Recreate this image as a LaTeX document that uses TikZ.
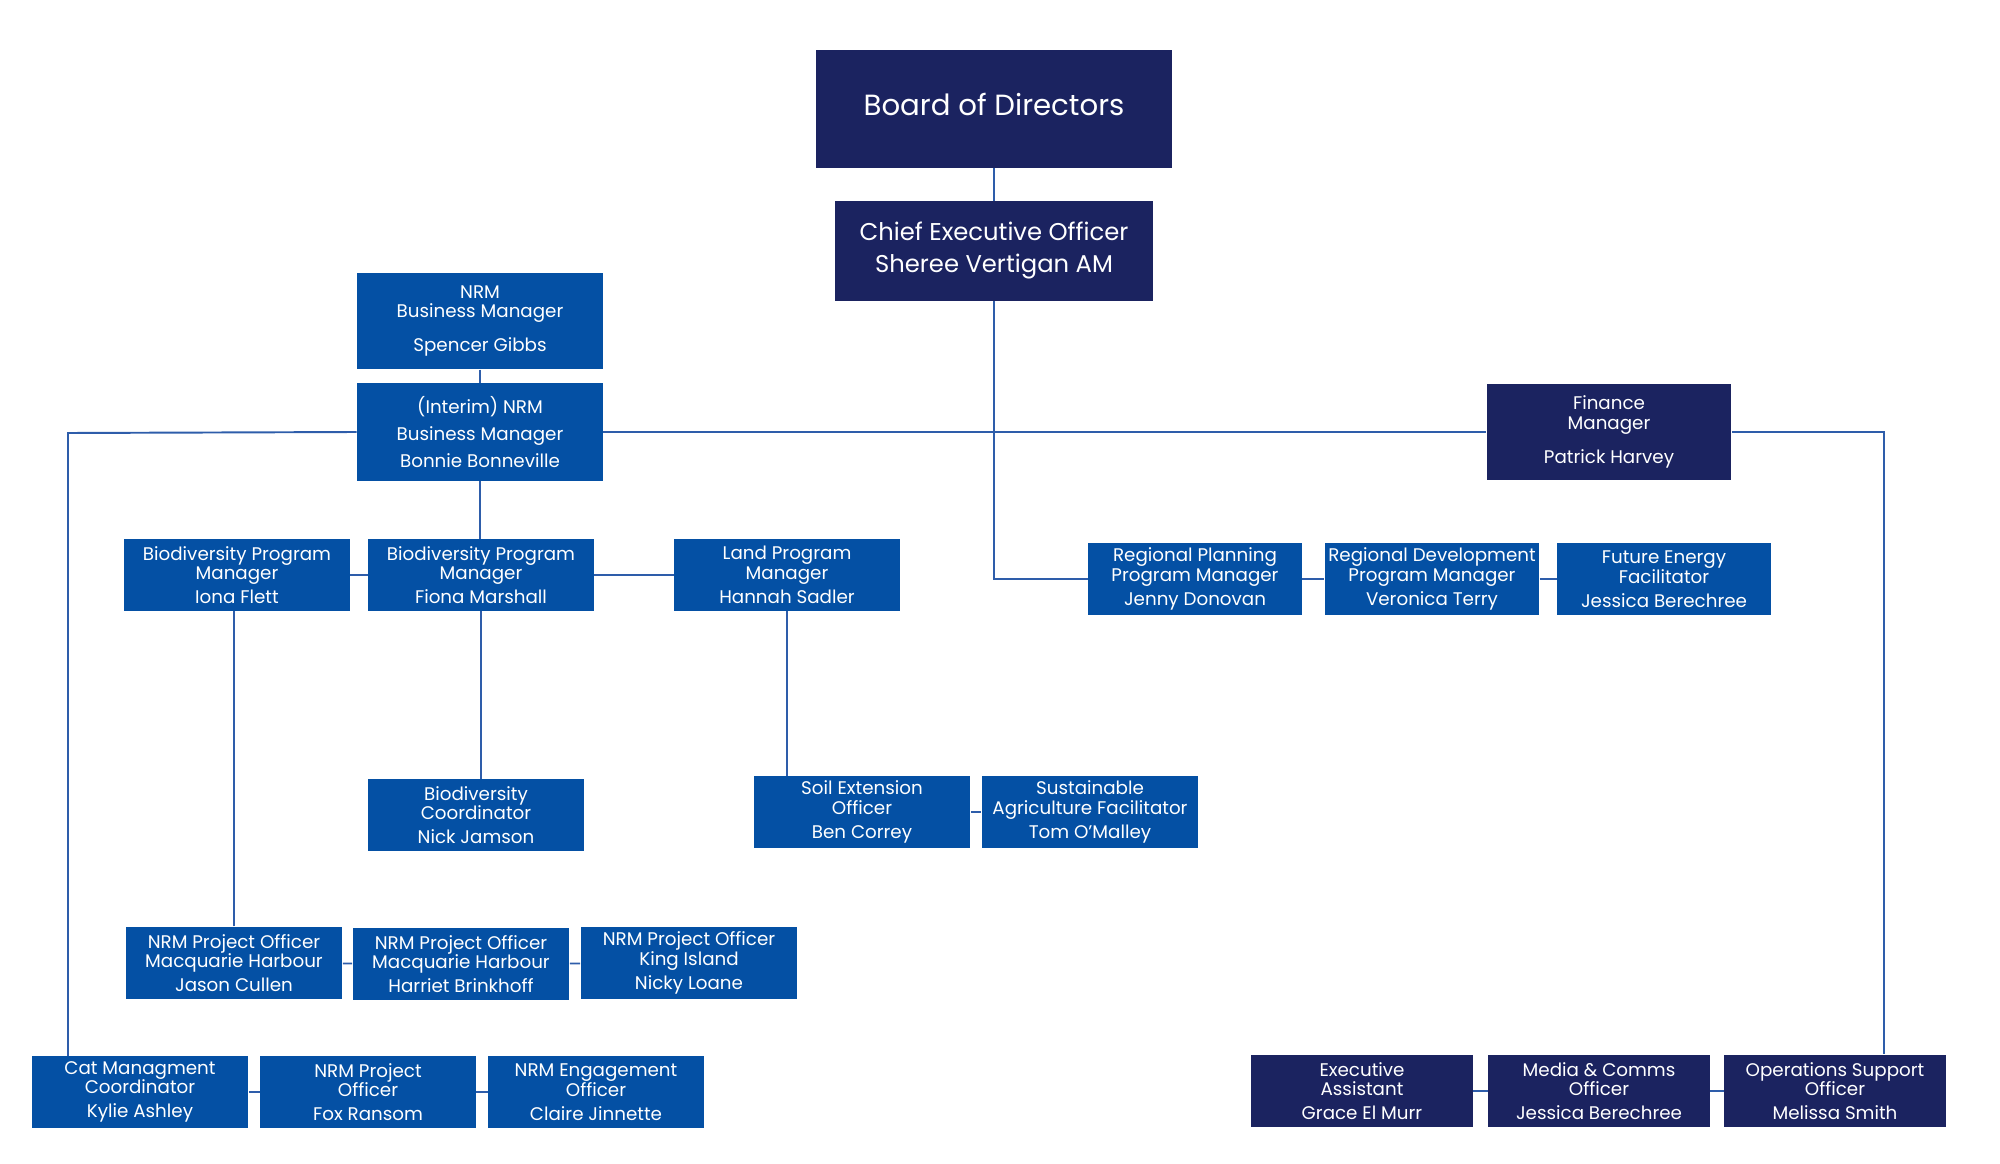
\documentclass[tikz,border=0pt]{standalone}
\usepackage{fontspec}
\setmainfont{Poppins}
\definecolor{navyfill}{HTML}{1B2360}
\definecolor{bluefill}{HTML}{0450A4}
\definecolor{linkblue}{HTML}{2E5DAA}
\begin{document}
\begin{tikzpicture}[x=0.01cm,y=-0.01cm,
	box/.style={rectangle, text=white, align=center, inner sep=0pt, font=\fontsize{5.2}{5.6}\selectfont},
	navybox/.style={box, fill=navyfill},
	bluebox/.style={box, fill=bluefill},
	small/.style={minimum width=2.16cm, minimum height=0.71cm},
	link/.style={draw=linkblue, line width=0.55pt}]
	\useasboundingbox (0,0) rectangle (2000,1164);

	% top of the chart
	\node[navybox, minimum width=3.56cm, minimum height=1.17cm, text depth=0.1cm, font=\fontsize{8.3}{9}\selectfont] (board) at (994,109) {Board of Directors};
	\node[navybox, minimum width=3.18cm, minimum height=0.99cm, font=\fontsize{6.9}{9.1}\selectfont] (ceo) at (994,251) {Chief Executive Officer\\Sheree Vertigan AM};

	\node[bluebox, minimum width=2.45cm, minimum height=0.96cm] (spencer) at (480,321) {NRM\\Business Manager\\[4pt]Spencer Gibbs};
	\node[bluebox, minimum width=2.45cm, minimum height=0.97cm] (interim) at (480,432) {(Interim) NRM\\[2pt]Business Manager\\[2pt]Bonnie Bonneville};
	\node[navybox, minimum width=2.44cm, minimum height=0.96cm] (finance) at (1609,432) {Finance\\Manager\\[4pt]Patrick Harvey};

	% program managers
	\node[bluebox, small, minimum width=2.25cm] (iona) at (237,575) {Biodiversity Program\\Manager\\[1.2pt]Iona Flett};
	\node[bluebox, small, minimum width=2.25cm] (fiona) at (481,575) {Biodiversity Program\\Manager\\[1.2pt]Fiona Marshall};
	\node[bluebox, small, minimum width=2.25cm] (land) at (787,575) {Land Program\\Manager\\[1.2pt]Hannah Sadler};
	\node[bluebox, small, minimum width=2.13cm] (rplan) at (1195,579) {Regional Planning\\Program Manager\\[1.2pt]Jenny Donovan};
	\node[bluebox, small, minimum width=2.14cm] (rdev) at (1432,579) {Regional Development\\Program Manager\\[1.2pt]Veronica Terry};
	\node[bluebox, small, minimum width=2.13cm] (energy) at (1664,579) {Future Energy\\Facilitator\\[1.2pt]Jessica Berechree};

	% officers
	\node[bluebox, small] (bcoord) at (476,815) {Biodiversity\\Coordinator\\[1.2pt]Nick Jamson};
	\node[bluebox, small] (soil) at (862,812) {Soil Extension\\Officer\\[1.2pt]Ben Correy};
	\node[bluebox, small] (sust) at (1090,812) {Sustainable\\Agriculture Facilitator\\[1.2pt]Tom O’Malley};

	\node[bluebox, small, minimum height=0.72cm] (jason) at (234,963) {NRM Project Officer\\Macquarie Harbour\\[1.2pt]Jason Cullen};
	\node[bluebox, small] (harriet) at (461,964) {NRM Project Officer\\Macquarie Harbour\\[1.2pt]Harriet Brinkhoff};
	\node[bluebox, small, minimum height=0.72cm] (nicky) at (689,963) {NRM Project Officer\\King Island\\[1.2pt]Nicky Loane};

	\node[bluebox, small] (cat) at (140,1092) {Cat Managment\\Coordinator\\[1.2pt]Kylie Ashley};
	\node[bluebox, small, minimum width=2.15cm] (fox) at (368,1092) {NRM Project\\Officer\\[1.2pt]Fox Ransom};
	\node[bluebox, small, minimum width=2.15cm] (claire) at (596,1092) {NRM Engagement\\Officer\\[1.2pt]Claire Jinnette};

	\node[navybox, small, minimum width=2.21cm, minimum height=0.72cm] (exec) at (1362,1091) {Executive\\Assistant\\[1.2pt]Grace El Murr};
	\node[navybox, small, minimum width=2.21cm, minimum height=0.72cm] (media) at (1599,1091) {Media \& Comms\\Officer\\[1.2pt]Jessica Berechree};
	\node[navybox, small, minimum width=2.21cm, minimum height=0.72cm] (ops) at (1835,1091) {Operations Support\\Officer\\[1.2pt]Melissa Smith};

	\coordinate (lcorner) at (68,433);
	\coordinate (rcorner) at (1884,432);

	% connectors
	\draw[link] (board) -- (ceo);
	\draw[link] (ceo.south) |- (rplan.west);
	\draw[link] (rplan) -- (rdev);
	\draw[link] (rdev) -- (energy);
	\draw[link] (spencer) -- (interim);
	\draw[link] (interim.east) -- (finance.west);
	\draw[link] (interim.west) -- (lcorner) -- (lcorner |- cat.north);
	\draw[link] (finance.east) -- (rcorner) -- (rcorner |- ops.north);
	\draw[link] (interim.south) -- (interim.south |- fiona.north);
	\draw[link] (iona) -- (fiona);
	\draw[link] (fiona) -- (land);
	\draw[link] (fiona.south) -- (fiona.south |- bcoord.north);
	\draw[link] (land.south) -- (land.south |- soil.north);
	\draw[link] (soil) -- (sust);
	\draw[link] (jason.north) -- (jason.north |- iona.south);
	\draw[link] (jason) -- (harriet);
	\draw[link] (harriet) -- (nicky);
	\draw[link] (cat) -- (fox);
	\draw[link] (fox) -- (claire);
	\draw[link] (exec) -- (media);
	\draw[link] (media) -- (ops);
\end{tikzpicture}
\end{document}
